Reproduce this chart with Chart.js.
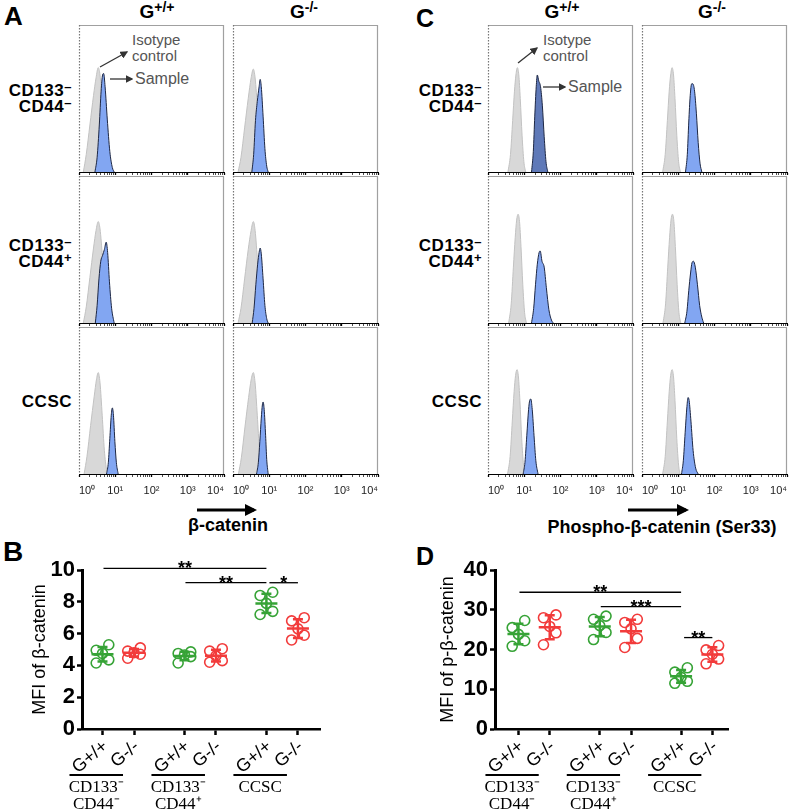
<!DOCTYPE html>
<html>
<head>
<meta charset="utf-8">
<script src="https://cdn.jsdelivr.net/npm/chart.js@4.4.0/dist/chart.umd.min.js"></script>
<style>
body { margin: 0; background: #fff; font-family: Arial, "Liberation Sans", sans-serif; }
#fig { position: relative; width: 790px; height: 809px; overflow: hidden; }
#fig canvas { position: absolute; }
.t { position: absolute; white-space: nowrap; color: #000; }
.letter { font-weight: bold; line-height: 28px; }
.hdr { font-weight: bold; font-size: 19px; line-height: 20px; transform: translateX(-50%); }
.hdr sup { font-size: 14px; vertical-align: 6px; line-height: 0; }
.row { font-weight: bold; font-size: 17px; line-height: 16px; text-align: right; letter-spacing: 0.5px; }
.row sup { font-size: 13px; vertical-align: 5px; line-height: 0; }
.note { color: #555; font-size: 15px; line-height: 16px; }
.axname { font-weight: bold; font-size: 18px; line-height: 20px; transform: translateX(-50%); }
svg { position: absolute; left: 0; top: 0; pointer-events: none; }
</style>
</head>
<body>
<div id="fig">
  <div class="t letter" style="left:4px;top:2px;font-size:26px">A</div>
  <div class="t letter" style="left:416px;top:4px;font-size:25px">C</div>
  <div class="t letter" style="left:3px;top:538px;font-size:28px">B</div>
  <div class="t letter" style="left:416px;top:542px;font-size:25px">D</div>

  <div class="t hdr" style="left:157px;top:2px">G<sup>+/+</sup></div>
  <div class="t hdr" style="left:304px;top:2px">G<sup>-/-</sup></div>
  <div class="t hdr" style="left:562px;top:2px">G<sup>+/+</sup></div>
  <div class="t hdr" style="left:712px;top:2px">G<sup>-/-</sup></div>

  <div class="t row" style="right:718px;top:83px">CD133<sup>–</sup><br>CD44<sup>–</sup></div>
  <div class="t row" style="right:718px;top:238px">CD133<sup>–</sup><br>CD44<sup>+</sup></div>
  <div class="t row" style="right:718px;top:394px">CCSC</div>
  <div class="t row" style="right:308px;top:83px">CD133<sup>–</sup><br>CD44<sup>–</sup></div>
  <div class="t row" style="right:308px;top:238px">CD133<sup>–</sup><br>CD44<sup>+</sup></div>
  <div class="t row" style="right:308px;top:394px">CCSC</div>

  <div class="t note" style="left:132px;top:32px">Isotype<br>control</div>
  <div class="t note" style="left:135px;top:71px;font-size:16px">Sample</div>
  <div class="t note" style="left:543px;top:32px">Isotype<br>control</div>
  <div class="t note" style="left:568px;top:79px;font-size:16px">Sample</div>

  <div class="t axname" style="left:228px;top:515px">β-catenin</div>
  <div class="t axname" style="left:662px;top:517px">Phospho-β-catenin (Ser33)</div>

  <svg width="790" height="809">
    <defs>
      <marker id="hg" markerWidth="6" markerHeight="6" refX="5" refY="3" orient="auto">
        <path d="M0,0 L6,3 L0,6 z" fill="#333"/>
      </marker>
      <marker id="hb" markerWidth="4" markerHeight="4" refX="3" refY="2" orient="auto">
        <path d="M0,0 L4,2 L0,4 z" fill="#000"/>
      </marker>
    </defs>
    <line x1="100" y1="67" x2="127" y2="52" stroke="#333" stroke-width="1.3" marker-end="url(#hg)"/>
    <line x1="110" y1="79" x2="132" y2="79" stroke="#333" stroke-width="1.3" marker-end="url(#hg)"/>
    <line x1="518" y1="63" x2="537" y2="48" stroke="#333" stroke-width="1.3" marker-end="url(#hg)"/>
    <line x1="543" y1="87" x2="565" y2="87" stroke="#333" stroke-width="1.3" marker-end="url(#hg)"/>
    <line x1="197" y1="510" x2="254" y2="510" stroke="#000" stroke-width="3" marker-end="url(#hb)"/>
    <line x1="628" y1="510" x2="686" y2="510" stroke="#000" stroke-width="3" marker-end="url(#hb)"/>
  </svg>
</div>

<script>
// flow histograms: [log10 fluorescence, % of max]
const histTickLabels = ['10⁰', '10¹', '10²', '10³', '10⁴'];

// A: beta-catenin
const aIsoWt1 = [[0.12,0],[0.2,12],[0.3,32],[0.4,52],[0.47,64],[0.53,71],[0.58,66],[0.65,45],[0.72,20],[0.8,4],[0.86,0]];
const aSmpWt1 = [[0.44,0],[0.5,10],[0.56,32],[0.61,55],[0.65,66],[0.68,67],[0.72,58],[0.78,36],[0.85,14],[0.92,3],[0.97,0]];
const aIsoKo1 = [[0.14,0],[0.22,10],[0.32,30],[0.42,50],[0.5,64],[0.56,70],[0.61,64],[0.68,42],[0.75,18],[0.82,4],[0.88,0]];
const aSmpKo1 = [[0.52,0],[0.57,12],[0.62,35],[0.67,48],[0.72,58],[0.75,63],[0.78,58],[0.83,38],[0.88,16],[0.93,4],[0.97,0]];
const aIsoWt2 = [[0.12,0],[0.2,11],[0.3,31],[0.4,51],[0.47,63],[0.53,69],[0.58,64],[0.65,44],[0.72,19],[0.8,4],[0.86,0]];
const aSmpWt2 = [[0.45,0],[0.5,12],[0.55,30],[0.6,42],[0.65,46],[0.7,50],[0.75,55],[0.79,48],[0.84,28],[0.9,10],[0.97,0]];
const aIsoKo2 = [[0.14,0],[0.22,10],[0.32,30],[0.42,50],[0.5,63],[0.56,69],[0.61,63],[0.68,41],[0.75,17],[0.82,4],[0.88,0]];
const aSmpKo2 = [[0.53,0],[0.58,10],[0.63,26],[0.68,40],[0.72,48],[0.75,51],[0.78,47],[0.83,30],[0.88,12],[0.93,3],[0.97,0]];
const aIsoWt3 = [[0.14,0],[0.22,12],[0.32,33],[0.42,53],[0.48,64],[0.53,69],[0.58,62],[0.64,40],[0.7,16],[0.76,3],[0.8,0]];
const aSmpWt3 = [[0.76,0],[0.81,8],[0.85,24],[0.89,40],[0.92,45],[0.95,40],[0.99,22],[1.03,8],[1.08,0]];
const aIsoKo3 = [[0.15,0],[0.23,11],[0.33,32],[0.43,52],[0.5,64],[0.56,69],[0.61,62],[0.67,40],[0.73,16],[0.79,3],[0.84,0]];
const aSmpKo3 = [[0.65,0],[0.7,8],[0.74,22],[0.78,38],[0.81,47],[0.83,49],[0.86,44],[0.9,26],[0.93,10],[0.97,0]];

// C: phospho-beta-catenin (Ser33)
const cIsoWt1 = [[0.55,0],[0.62,12],[0.68,35],[0.73,55],[0.77,66],[0.81,71],[0.85,66],[0.89,50],[0.94,25],[0.99,7],[1.04,0]];
const cSmpWt1 = [[1.2,0],[1.25,14],[1.29,38],[1.33,58],[1.36,66],[1.4,62],[1.45,58],[1.5,45],[1.55,24],[1.6,7],[1.65,0]];
const cIsoKo1 = [[0.57,0],[0.64,12],[0.7,35],[0.75,55],[0.79,66],[0.83,71],[0.87,66],[0.91,50],[0.96,25],[1.01,7],[1.06,0]];
const cSmpKo1 = [[1.2,0],[1.25,12],[1.29,34],[1.33,52],[1.37,60],[1.4,60],[1.45,55],[1.5,40],[1.55,20],[1.6,6],[1.65,0]];
const cIsoWt2 = [[0.57,0],[0.64,13],[0.7,38],[0.75,58],[0.79,70],[0.83,74],[0.87,69],[0.91,52],[0.96,26],[1.01,7],[1.06,0]];
const cSmpWt2 = [[1.2,0],[1.26,10],[1.31,26],[1.36,40],[1.41,48],[1.44,49],[1.49,42],[1.55,38],[1.61,24],[1.68,9],[1.75,2],[1.8,0]];
const cIsoKo2 = [[0.58,0],[0.65,13],[0.71,38],[0.76,58],[0.8,70],[0.84,74],[0.88,69],[0.92,52],[0.97,26],[1.02,7],[1.07,0]];
const cSmpKo2 = [[1.18,0],[1.24,8],[1.29,22],[1.34,34],[1.38,41],[1.42,42],[1.47,38],[1.53,26],[1.59,12],[1.65,4],[1.7,0]];
const cIsoWt3 = [[0.54,0],[0.61,12],[0.67,36],[0.72,56],[0.76,67],[0.8,71],[0.84,66],[0.88,50],[0.93,24],[0.98,6],[1.02,0]];
const cSmpWt3 = [[0.97,0],[1.02,8],[1.07,26],[1.12,44],[1.15,50],[1.18,51],[1.22,44],[1.27,26],[1.32,9],[1.38,0]];
const cIsoKo3 = [[0.57,0],[0.64,12],[0.7,36],[0.75,56],[0.79,67],[0.83,71],[0.87,66],[0.91,50],[0.96,24],[1.01,6],[1.05,0]];
const cSmpKo3 = [[1.09,0],[1.14,9],[1.19,28],[1.24,46],[1.27,52],[1.3,50],[1.35,36],[1.41,16],[1.48,4],[1.55,0]];

// dot plots
const catLabels = ['G+/+', 'G-/-', 'G+/+', 'G-/-', 'G+/+', 'G-/-'];
const catPos = [0, 1, 2.6, 3.6, 5.2, 6.2];
const groupNames = [['CD133⁻', 'CD44⁻'], ['CD133⁻', 'CD44⁺'], ['CCSC']];

// B: MFI of beta-catenin
const bWt1 = [4.15, 4.35, 4.75, 4.95, 5.3];
const bKo1 = [4.45, 4.7, 4.8, 4.9, 5.1];
const bWt2 = [4.15, 4.55, 4.65, 4.75, 4.85];
const bKo2 = [4.2, 4.3, 4.6, 4.9, 5.05];
const bWt3 = [7.2, 7.4, 7.9, 8.4, 8.6];
const bKo3 = [5.6, 5.9, 6.3, 6.8, 7.0];
const bSig = [[0, 4, 10.1, '**'], [2, 4, 9.2, '**'], [4, 5, 9.2, '*']];

// D: MFI of p-beta-catenin
const dWt1 = [20.8, 22.2, 23.8, 25.5, 27.3];
const dKo1 = [21.2, 24.2, 25.8, 28.0, 28.7];
const dWt2 = [22.5, 24.3, 26.0, 27.6, 28.4];
const dKo2 = [20.5, 22.8, 25.2, 26.8, 27.6];
const dWt3 = [11.5, 12.0, 13.0, 14.3, 15.4];
const dKo3 = [16.4, 17.6, 18.8, 19.9, 21.0];
const dSig = [[0, 4, 34.4, '**'], [2, 4, 30.8, '***'], [4, 5, 23.0, '**']];

const green = '#36a336';
const red = '#f23b3b';
const spread = [-0.2, 0.2, 0, -0.2, 0.2];

Chart.defaults.font.family = 'Arial, "Liberation Sans", sans-serif';
Chart.defaults.animation = false;

const fig = document.getElementById('fig');

function addCanvas(left, top, w, h) {
    const c = document.createElement('canvas');
    c.width = w;
    c.height = h;
    c.style.left = left + 'px';
    c.style.top = top + 'px';
    fig.appendChild(c);
    return c;
}

const boxPlugin = {
    id: 'box',
    afterDraw(chart) {
        const { ctx, chartArea: a } = chart;
        ctx.save();
        ctx.strokeStyle = '#a0a0a0';
        ctx.lineWidth = 1.2;
        ctx.beginPath();
        ctx.moveTo(a.left, a.top + 0.5);
        ctx.lineTo(a.right - 0.5, a.top + 0.5);
        ctx.lineTo(a.right - 0.5, a.bottom);
        ctx.stroke();
        ctx.strokeStyle = '#777';
        ctx.setLineDash([1.5, 1.5]);
        ctx.beginPath();
        ctx.moveTo(a.left + 0.5, a.top);
        ctx.lineTo(a.left + 0.5, a.bottom);
        ctx.stroke();
        ctx.restore();
    }
};

const cellMargin = 18;

function histCell(left, top, row, iso, smp, smpFill) {
    const last = row === 2;
    const c = addCanvas(left - cellMargin, top, 145 + 2 * cellMargin, last ? 170 : 150);
    const toXY = pts => pts.map(p => ({ x: p[0], y: p[1] }));
    new Chart(c, {
        type: 'line',
        data: {
            datasets: [
                {
                    data: toXY(smp),
                    borderColor: '#1d2744',
                    borderWidth: 1,
                    backgroundColor: smpFill || '#82a6f2',
                    fill: 'origin',
                    pointRadius: 0,
                    cubicInterpolationMode: 'monotone',
                },
                {
                    data: toXY(iso),
                    borderColor: '#c2c2c2',
                    borderWidth: 1,
                    backgroundColor: '#d8d8d8',
                    fill: 'origin',
                    pointRadius: 0,
                    cubicInterpolationMode: 'monotone',
                },
            ],
        },
        options: {
            responsive: false,
            events: [],
            layout: { padding: { left: cellMargin, right: cellMargin, top: 0, bottom: 0 } },
            plugins: { legend: { display: false }, tooltip: { enabled: false } },
            scales: {
                x: {
                    type: 'linear',
                    min: 0,
                    max: 4,
                    afterBuildTicks: s => {
                        const t = [];
                        for (let n = 0; n <= 4; n++) {
                            t.push({ value: n });
                            if (n < 4) for (let k = 2; k <= 9; k++) t.push({ value: n + Math.log10(k) });
                        }
                        s.ticks = t;
                    },
                    afterFit: s => { s.height = last ? 23 : 3; },
                    grid: {
                        drawOnChartArea: false,
                        tickLength: 3,
                        color: '#000',
                        tickWidth: ctx => Number.isInteger(ctx.tick.value) ? 1.3 : 0.7,
                    },
                    border: { color: '#000', width: 1 },
                    ticks: {
                        display: last,
                        autoSkip: false,
                        maxRotation: 0,
                        align: 'inner',
                        padding: 7,
                        color: '#222',
                        font: { size: 11 },
                        callback: v => Number.isInteger(v) ? histTickLabels[v] : '',
                    },
                },
                y: { display: false, min: 0, max: 100 },
            },
        },
        plugins: [boxPlugin],
    });
}

const rowTops = [25, 176, 327];
histCell(79, rowTops[0], 0, aIsoWt1, aSmpWt1);
histCell(233, rowTops[0], 0, aIsoKo1, aSmpKo1);
histCell(79, rowTops[1], 1, aIsoWt2, aSmpWt2);
histCell(233, rowTops[1], 1, aIsoKo2, aSmpKo2);
histCell(79, rowTops[2], 2, aIsoWt3, aSmpWt3);
histCell(233, rowTops[2], 2, aIsoKo3, aSmpKo3);

histCell(488, rowTops[0], 0, cIsoWt1, cSmpWt1, '#5f79b8');
histCell(642, rowTops[0], 0, cIsoKo1, cSmpKo1);
histCell(488, rowTops[1], 1, cIsoWt2, cSmpWt2);
histCell(642, rowTops[1], 1, cIsoKo2, cSmpKo2);
histCell(488, rowTops[2], 2, cIsoWt3, cSmpWt3);
histCell(642, rowTops[2], 2, cIsoKo3, cSmpKo3);

// mean +/- SD, significance bars and group captions for the dot plots
const meanSdPlugin = {
    id: 'meanSd',
    afterDatasetsDraw(chart) {
        const { ctx, scales: { x, y } } = chart;
        chart.data.datasets.forEach((ds, i) => {
            const vals = ds.data.map(p => p.y);
            const m = vals.reduce((a, b) => a + b, 0) / vals.length;
            const sd = Math.sqrt(vals.reduce((a, b) => a + (b - m) * (b - m), 0) / (vals.length - 1));
            const px = x.getPixelForValue(catPos[i]);
            const py = y.getPixelForValue(m);
            const top = y.getPixelForValue(m + sd);
            const bot = y.getPixelForValue(m - sd);
            ctx.save();
            ctx.strokeStyle = ds.borderColor;
            ctx.lineWidth = 2.5;
            ctx.beginPath();
            ctx.moveTo(px - 11, py); ctx.lineTo(px + 11, py);
            ctx.moveTo(px, top); ctx.lineTo(px, bot);
            ctx.moveTo(px - 5, top); ctx.lineTo(px + 5, top);
            ctx.moveTo(px - 5, bot); ctx.lineTo(px + 5, bot);
            ctx.stroke();
            ctx.restore();
        });
    }
};

function sigPlugin(sig) {
    return {
        id: 'sig',
        afterDraw(chart) {
            const { ctx, scales: { x, y } } = chart;
            ctx.save();
            ctx.strokeStyle = '#000';
            ctx.fillStyle = '#000';
            ctx.lineWidth = 1.3;
            ctx.font = 'bold 18px Arial, "Liberation Sans", sans-serif';
            ctx.textAlign = 'center';
            ctx.textBaseline = 'alphabetic';
            sig.forEach(([a, b, v, txt]) => {
                const x1 = x.getPixelForValue(catPos[a]) + (a === 4 ? 3 : 1);
                const x2 = x.getPixelForValue(catPos[b]);
                const py = y.getPixelForValue(v);
                ctx.beginPath();
                ctx.moveTo(x1, py); ctx.lineTo(x2, py);
                ctx.stroke();
                ctx.fillText(txt, (x1 + x2) / 2, py + 6);
            });
            ctx.restore();
        }
    };
}

const groupPlugin = {
    id: 'groups',
    afterDraw(chart) {
        const { ctx, chartArea: a, scales: { x } } = chart;
        ctx.save();
        ctx.strokeStyle = '#000';
        ctx.fillStyle = '#000';
        ctx.lineWidth = 2;
        ctx.font = '17px "Liberation Serif", "Times New Roman", serif';
        ctx.textAlign = 'center';
        ctx.textBaseline = 'middle';
        groupNames.forEach((names, g) => {
            const x1 = x.getPixelForValue(catPos[2 * g]) - 33;
            const x2 = x.getPixelForValue(catPos[2 * g + 1]) - 11;
            const yb = a.bottom + 46;
            ctx.beginPath();
            ctx.moveTo(x1, yb); ctx.lineTo(x2, yb);
            ctx.stroke();
            names.forEach((n, k) => ctx.fillText(n, (x1 + x2) / 2, yb + 13 + k * 17));
        });
        ctx.restore();
    }
};

function dotPlot(left, series, sig, yMax, yStep, title, axisLeft, axisRight, titlePad, xMin, xMax) {
    const c = addCanvas(left, 540, 395, 269);
    const datasets = series.map((vals, i) => {
        const sorted = [...vals].sort((p, q) => p - q);
        const col = i % 2 ? red : green;
        return {
            data: sorted.map((v, k) => ({ x: catPos[i] + spread[k], y: v })),
            showLine: false,
            pointRadius: 5,
            pointBorderWidth: 1.6,
            borderColor: col,
            pointBorderColor: col,
            backgroundColor: 'rgba(255,255,255,0)',
            clip: false,
        };
    });
    new Chart(c, {
        type: 'scatter',
        data: { datasets },
        options: {
            responsive: false,
            events: [],
            layout: { padding: { left: 0, right: 395 - axisRight, top: 30, bottom: 0 } },
            plugins: { legend: { display: false }, tooltip: { enabled: false } },
            scales: {
                x: {
                    type: 'linear',
                    min: xMin,
                    max: xMax,
                    afterBuildTicks: s => { s.ticks = catPos.map(v => ({ value: v })); },
                    afterFit: s => { s.height = 80; },
                    grid: { drawOnChartArea: false, tickLength: 6, tickWidth: 2.5, color: '#000' },
                    border: { color: '#000', width: 2.5 },
                    ticks: {
                        autoSkip: false,
                        minRotation: 40,
                        maxRotation: 40,
                        padding: 1,
                        labelOffset: 3,
                        color: '#000',
                        font: { size: 18 },
                        callback: (v, i) => catLabels[i],
                    },
                },
                y: {
                    min: 0,
                    max: yMax,
                    afterFit: s => { s.width = axisLeft; },
                    grid: { drawOnChartArea: false, tickLength: 5, tickWidth: 2.5, color: '#000' },
                    border: { color: '#000', width: 3 },
                    ticks: { stepSize: yStep, padding: 2, color: '#000', font: { size: 22, weight: 'bold' } },
                    title: {
                        display: true,
                        text: title,
                        color: '#000',
                        font: { size: 18 },
                        padding: { top: titlePad, bottom: 0 },
                    },
                },
            },
        },
        plugins: [meanSdPlugin, sigPlugin(sig), groupPlugin],
    });
}

dotPlot(0, [bWt1, bKo1, bWt2, bKo2, bWt3, bKo3], bSig, 10, 2, 'MFI of β-catenin', 82, 320, 29, -0.65, 6.9);
dotPlot(395, [dWt1, dKo1, dWt2, dKo2, dWt3, dKo3], dSig, 40, 10, 'MFI of p-β-catenin', 100, 333, 42, -0.75, 6.7);
</script>
</body>
</html>
